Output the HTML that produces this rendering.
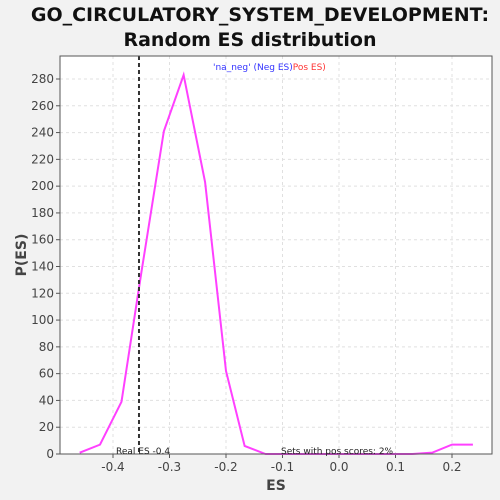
<!DOCTYPE html>
<html><head><meta charset="utf-8"><style>
html,body{margin:0;padding:0;overflow:hidden;background:#f2f2f2;font-family:"DejaVu Sans","Liberation Sans",sans-serif}
svg{display:block}
</style></head><body>
<svg width="500" height="500" xmlns="http://www.w3.org/2000/svg" id="chart">
<rect width="500" height="500" fill="#f2f2f2"/>
<text x="260" y="21" text-anchor="middle" font-size="19" font-weight="bold" fill="#111">GO_CIRCULATORY_SYSTEM_DEVELOPMENT:</text>
<text x="250" y="46" text-anchor="middle" font-size="19" font-weight="bold" fill="#111">Random ES distribution</text>
<rect x="60" y="56" width="432" height="398" fill="#fff"/>
<g id="grid"></g><g id="axes"></g>
<polyline id="line" fill="none" stroke="#ff40ff" stroke-width="2"/>
<line id="realEs" stroke="#333" stroke-width="2" stroke-dasharray="4,3"/>
<rect x="60" y="56" width="432" height="398" fill="none" stroke="#555"/>
<text x="116" y="454" font-size="9" fill="#222">Real ES -0.4</text>
<text x="281" y="454" font-size="9" fill="#222">Sets with pos scores: 2%</text>
<text x="213" y="70" font-size="9"><tspan fill="#3333ff">'na_neg' (Neg ES)</tspan><tspan fill="#ff3333">Pos ES)</tspan></text>
<text x="276" y="490" text-anchor="middle" font-size="14" font-weight="bold" fill="#444">ES</text>
<text transform="translate(26,255) rotate(-90)" text-anchor="middle" font-size="14" font-weight="bold" fill="#444">P(ES)</text>
</svg>
<script>
const esValues=[-0.459,-0.423,-0.385,-0.35,-0.31,-0.275,-0.237,-0.2,-0.167,-0.13,-0.1,0,0.1,0.13,0.165,0.2,0.237];
const probValues=[1,7,39,135,241,283,203,62,6,0,0,0,0,0,1,7,7];
const xTicks=[-0.4,-0.3,-0.2,-0.1,0.0,0.1,0.2];
const yTicks=[0,20,40,60,80,100,120,140,160,180,200,220,240,260,280];
const realEs=-0.354;
const X=v=>339+v*565, Y=v=>454-v*375/280;
const ns="http://www.w3.org/2000/svg";
const grid=document.getElementById('grid'), axes=document.getElementById('axes');
function mk(tag,a,p){const e=document.createElementNS(ns,tag);for(const k in a)e.setAttribute(k,a[k]);p.appendChild(e);return e;}
xTicks.forEach(t=>{
 const g=mk('line',{x1:X(t),x2:X(t),y1:56,y2:454,stroke:'#e0e0e0','stroke-dasharray':'3,3'},grid);
 
 
 mk('line',{x1:X(t),x2:X(t),y1:454,y2:458,stroke:'#555'},axes);
 const l=mk('text',{x:X(t),y:471,'text-anchor':'middle','font-size':12,fill:'#444'},axes);
 l.textContent=t.toFixed(1);
 
 
});
yTicks.forEach(t=>{
 const g=mk('line',{x1:60,x2:492,y1:Y(t),y2:Y(t),stroke:'#e0e0e0','stroke-dasharray':'3,3'},grid);
 
 
 mk('line',{x1:56,x2:60,y1:Y(t),y2:Y(t),stroke:'#555'},axes);
 const l=mk('text',{x:54,y:Y(t)+4,'text-anchor':'end','font-size':12,fill:'#444'},axes);
 l.textContent=t;
 
 
});
document.getElementById('line').setAttribute('points',esValues.map((v,i)=>X(v)+','+Y(probValues[i])).join(' '));
const r=document.getElementById('realEs');
r.setAttribute('x1',X(realEs));r.setAttribute('x2',X(realEs));r.setAttribute('y1',56);r.setAttribute('y2',454);
</script>
</body></html>
